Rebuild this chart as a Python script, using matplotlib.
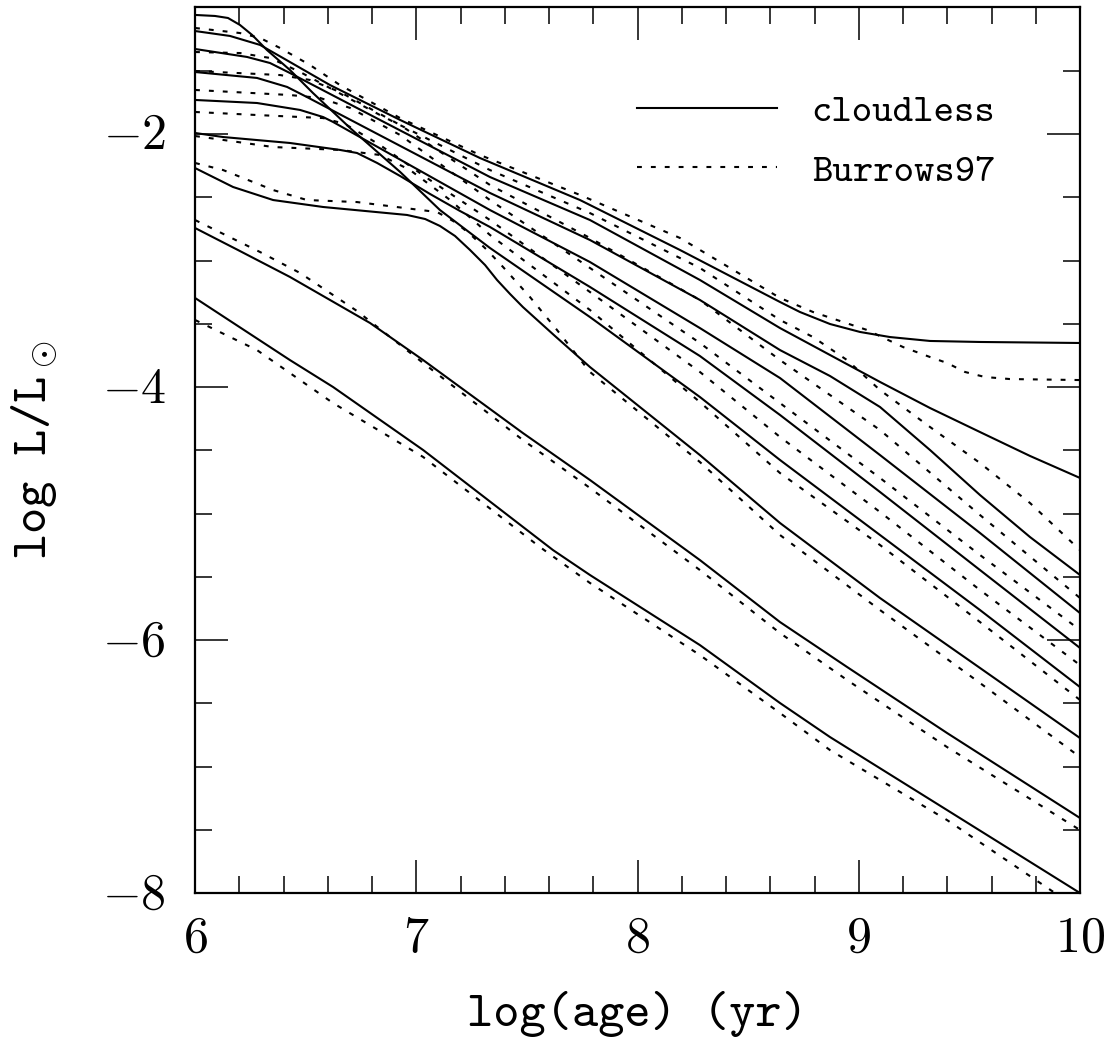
import matplotlib
matplotlib.use("Agg")
import matplotlib.pyplot as plt
from matplotlib.ticker import MultipleLocator, FuncFormatter

plt.rcParams["font.family"] = ["cmtt10", "DejaVu Serif"]
plt.rcParams["mathtext.fontset"] = "cm"
plt.rcParams["lines.scale_dashes"] = False

# ===== cloudless models (solid) : log(age) , log L/Lsun =====
s1_x = [6.0, 6.090, 6.149, 6.203, 6.258, 6.325, 6.429, 6.533, 6.701, 6.927, 7.107, 7.333, 7.785, 8.282, 8.644, 9.096, 9.548, 10.0]
s1_y = [-1.059, -1.067, -1.083, -1.138, -1.217, -1.336, -1.494, -1.676, -1.953, -2.300, -2.601, -2.901, -3.447, -4.079, -4.577, -5.170, -5.763, -6.372]

s2_x = [6.0, 6.158, 6.294, 6.429, 6.610, 6.927, 7.288, 7.740, 8.192, 8.644, 8.734, 8.870, 9.006, 9.141, 9.322, 9.548, 10.0]
s2_y = [-1.186, -1.225, -1.296, -1.431, -1.613, -1.889, -2.190, -2.522, -2.917, -3.328, -3.407, -3.502, -3.565, -3.605, -3.636, -3.644, -3.652]

s3_x = [6.0, 6.235, 6.339, 6.429, 6.836, 7.333, 7.785, 8.282, 8.644, 8.870, 9.096, 9.322, 9.548, 9.774, 10.0]
s3_y = [-1.328, -1.391, -1.439, -1.518, -1.889, -2.340, -2.680, -3.154, -3.534, -3.747, -3.960, -4.166, -4.356, -4.545, -4.719]

s4_x = [6.0, 6.280, 6.416, 6.506, 7.333, 7.785, 8.282, 8.644, 8.870, 9.096, 9.322, 9.548, 9.774, 10.0]
s4_y = [-1.510, -1.557, -1.628, -1.708, -2.466, -2.838, -3.312, -3.708, -3.913, -4.158, -4.498, -4.854, -5.186, -5.486]

s5_x = [6.0, 6.280, 6.475, 6.579, 6.624, 7.333, 7.785, 8.282, 8.644, 9.096, 9.548, 10.0]
s5_y = [-1.731, -1.755, -1.810, -1.866, -1.905, -2.601, -3.012, -3.534, -3.929, -4.538, -5.154, -5.787]

s6_x = [6.0, 6.127, 6.429, 6.655, 6.732, 6.823, 6.927, 7.062, 7.198, 7.333, 7.785, 8.282, 8.644, 9.096, 9.548, 10.0]
s6_y = [-1.992, -2.024, -2.071, -2.126, -2.150, -2.229, -2.332, -2.474, -2.609, -2.735, -3.209, -3.755, -4.221, -4.830, -5.447, -6.063]

s7_x = [6.0, 6.172, 6.353, 6.579, 6.958, 7.040, 7.107, 7.175, 7.243, 7.311, 7.365, 7.424, 7.482, 7.627, 7.785, 8.282, 8.644, 9.096, 9.548, 10.0]
s7_y = [-2.269, -2.419, -2.522, -2.577, -2.640, -2.672, -2.727, -2.806, -2.917, -3.036, -3.154, -3.265, -3.368, -3.597, -3.842, -4.538, -5.075, -5.668, -6.221, -6.775]

s8_x = [6.0, 6.194, 6.429, 6.791, 7.031, 7.482, 7.785, 8.282, 8.644, 8.947, 9.399, 10.0]
s8_y = [-2.743, -2.917, -3.130, -3.494, -3.787, -4.364, -4.735, -5.368, -5.858, -6.213, -6.735, -7.407]

s9_x = [6.0, 6.429, 6.624, 7.031, 7.618, 7.785, 8.282, 8.644, 8.870, 9.399, 10.0]
s9_y = [-3.296, -3.787, -4.000, -4.498, -5.289, -5.486, -6.040, -6.498, -6.767, -7.344, -8.000]

# ===== Burrows97 (dotted) =====
d1_x = [6.0, 6.203, 6.294, 6.384, 6.520, 6.655, 6.927, 7.288, 7.740, 8.192, 8.644, 8.793, 9.037, 9.200, 9.322, 9.399, 9.480, 9.570, 9.683, 10.0]
d1_y = [-1.162, -1.202, -1.241, -1.320, -1.455, -1.613, -1.874, -2.166, -2.482, -2.822, -3.296, -3.407, -3.549, -3.684, -3.763, -3.810, -3.881, -3.921, -3.937, -3.945]

d2_x = [6.0, 6.203, 6.339, 6.475, 6.836, 7.333, 7.785, 8.282, 8.644, 8.793, 8.947, 9.096, 9.322, 9.548, 9.774, 10.0]
d2_y = [-1.352, -1.360, -1.399, -1.510, -1.850, -2.285, -2.625, -3.059, -3.470, -3.605, -3.787, -4.024, -4.316, -4.601, -4.917, -5.289]

d3_x = [6.0, 6.384, 6.520, 6.655, 6.927, 7.333, 7.785, 8.282, 8.644, 9.096, 9.548, 10.0]
d3_y = [-1.502, -1.534, -1.573, -1.668, -1.929, -2.403, -2.822, -3.312, -3.787, -4.340, -5.012, -5.668]

d4_x = [6.0, 6.429, 6.565, 6.701, 6.927, 7.333, 7.785, 8.282, 8.644, 9.096, 9.548, 10.0]
d4_y = [-1.652, -1.692, -1.715, -1.794, -2.008, -2.522, -3.059, -3.652, -4.127, -4.719, -5.328, -5.921]

d5_x = [6.0, 6.280, 6.579, 6.678, 6.836, 7.062, 7.333, 7.785, 8.282, 8.644, 9.096, 9.548, 10.0]
d5_y = [-1.826, -1.850, -1.874, -1.921, -2.087, -2.364, -2.680, -3.249, -3.881, -4.395, -4.988, -5.605, -6.198]

d6_x = [6.0, 6.127, 6.353, 6.655, 6.836, 6.972, 7.153, 7.333, 7.785, 8.282, 8.644, 9.096, 9.548, 10.0]
d6_y = [-2.016, -2.047, -2.103, -2.126, -2.166, -2.285, -2.522, -2.798, -3.391, -4.119, -4.680, -5.249, -5.858, -6.474]

d7_x = [6.0, 6.127, 6.353, 6.506, 6.732, 7.094, 7.175, 7.243, 7.320, 7.392, 7.514, 7.636, 7.785, 8.282, 8.644, 9.096, 9.548, 10.0]
d7_y = [-2.229, -2.285, -2.443, -2.522, -2.538, -2.617, -2.696, -2.791, -2.917, -3.051, -3.289, -3.549, -3.881, -4.593, -5.170, -5.763, -6.340, -6.925]

d8_x = [6.0, 6.294, 6.475, 6.732, 7.031, 7.482, 7.785, 8.282, 8.644, 8.947, 9.399, 10.0]
d8_y = [-2.680, -2.933, -3.099, -3.399, -3.810, -4.419, -4.798, -5.447, -5.945, -6.316, -6.846, -7.502]

d9_x = [6.0, 6.280, 6.624, 7.031, 7.559, 7.785, 8.282, 8.644, 8.870, 9.399, 9.887]
d9_y = [-3.470, -3.708, -4.127, -4.553, -5.265, -5.549, -6.119, -6.577, -6.870, -7.423, -8.000]

solid = [(s1_x, s1_y), (s2_x, s2_y), (s3_x, s3_y), (s4_x, s4_y), (s5_x, s5_y),
         (s6_x, s6_y), (s7_x, s7_y), (s8_x, s8_y), (s9_x, s9_y)]
dotted = [(d1_x, d1_y), (d2_x, d2_y), (d3_x, d3_y), (d4_x, d4_y), (d5_x, d5_y),
          (d6_x, d6_y), (d7_x, d7_y), (d8_x, d8_y), (d9_x, d9_y)]

fig = plt.figure(figsize=(11.17, 10.40), dpi=100)
ax = fig.add_axes([0.1746, 0.1413, 0.7923, 0.8515])

for i, (x, y) in enumerate(solid):
    ax.plot(x, y, color="k", lw=1.5, label="cloudless" if i == 0 else None)
for i, (x, y) in enumerate(dotted):
    ax.plot(x, y, color="k", lw=1.5, dashes=(3.5, 6.5),
            label="Burrows97" if i == 0 else None)

ax.set_xlim(6, 10)
ax.set_ylim(-8, -1)
ax.xaxis.set_major_locator(MultipleLocator(1))
ax.xaxis.set_minor_locator(MultipleLocator(0.2))
ax.yaxis.set_major_locator(MultipleLocator(2))
ax.yaxis.set_minor_locator(MultipleLocator(0.5))
fmt = FuncFormatter(lambda v, p: f"${v:g}$")
ax.xaxis.set_major_formatter(fmt)
ax.yaxis.set_major_formatter(fmt)
ax.tick_params(which="both", direction="in", top=True, right=True, width=1.1)
ax.tick_params(which="major", length=24, labelsize=36)
ax.tick_params(which="minor", length=12)
ax.tick_params(axis="x", pad=20)
ax.tick_params(axis="y", pad=21)
for sp in ax.spines.values():
    sp.set_linewidth(1.6)

ax.set_xlabel("log(age) (yr)", fontsize=36, labelpad=20)
ax.set_ylabel(r"log L/L$_\odot$", fontsize=36, labelpad=30)

ax.legend(loc="upper left", bbox_to_anchor=(0.499, 0.902), frameon=False,
          fontsize=28, handlelength=3.6, handletextpad=0.9, labelspacing=0.6,
          borderpad=0, borderaxespad=0)

fig.savefig("out.png", dpi=100)
